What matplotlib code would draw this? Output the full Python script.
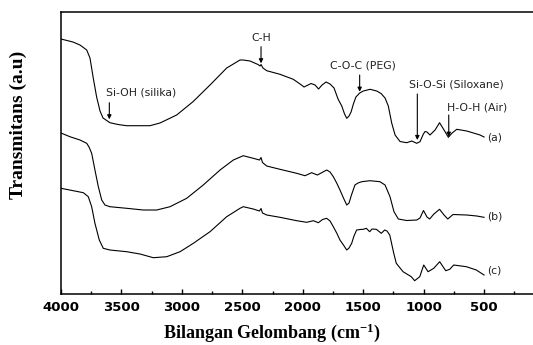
import matplotlib
matplotlib.use("Agg")
import matplotlib.pyplot as plt
from matplotlib.ticker import MultipleLocator

plt.rcParams["mathtext.fontset"] = "custom"
plt.rcParams["mathtext.rm"] = "Liberation Serif:bold"
plt.rcParams["mathtext.bf"] = "Liberation Serif:bold"
plt.rcParams["mathtext.it"] = "Liberation Serif:bold"

# ---------------- data (arbitrary transmittance units) ----------------
wn_a = [4000, 3901, 3843, 3787, 3760, 3733, 3705, 3677, 3652, 3595, 3528, 3456, 3264, 3181,
        3043, 2908, 2767, 2629, 2519, 2492, 2436, 2370, 2353, 2345, 2329, 2298, 2188, 2078,
        2022, 1989, 1931, 1898, 1869, 1840, 1807, 1774, 1741, 1708, 1677, 1654, 1636, 1617,
        1600, 1581, 1560, 1529, 1499, 1443, 1388, 1352, 1319, 1292, 1264, 1236, 1195, 1140,
        1098, 1057, 1030, 1002, 988, 972, 947, 905, 868, 831, 795, 767, 726, 643, 560, 533, 500]
t_a = [256, 253, 250, 245, 237, 217, 198, 184, 177, 172.3, 170.5, 169.3, 169.3, 172,
       180, 193.3, 210, 227, 235, 235, 234, 230.5, 229, 230.5, 227, 224.3, 220.7, 215.7,
       211, 208, 211.5, 210, 206, 210, 213, 211, 207, 196, 189, 181, 176.7, 179,
       183, 191, 198, 202, 204, 205.7, 204, 201.5, 197, 189, 172, 160, 153.5, 152.3,
       154, 151.7, 153.3, 161, 163.5, 163, 160, 165, 172.3, 165, 157.7, 161.7, 165.7, 164, 161, 160, 158]

wn_b = [4000, 3926, 3843, 3787, 3768, 3746, 3719, 3691, 3663, 3636, 3595, 3456, 3319, 3208,
        3098, 2960, 2823, 2684, 2574, 2492, 2409, 2358, 2345, 2333, 2298, 2188, 2050, 1981,
        1926, 1879, 1843, 1802, 1774, 1747, 1719, 1692, 1663, 1636, 1617, 1597, 1568, 1543,
        1512, 1443, 1361, 1319, 1278, 1245, 1209, 1140, 1057, 1030, 1001, 972, 950, 915,
        868, 831, 800, 757, 643, 560, 500]
t_b = [162, 158.3, 155, 151.7, 148, 141.7, 125, 108.3, 95, 90, 88.3, 86.7, 85, 85,
       88.3, 96.7, 110, 125, 135, 139.3, 136.7, 135, 137.5, 132.5, 129, 125.7, 121.7, 119.3,
       122.3, 120, 122.3, 125, 123, 118.3, 112, 105, 97, 90, 92, 100, 110, 112,
       113.3, 114.3, 113.3, 110, 98.3, 83.3, 76, 74.5, 75, 77, 84.5, 78, 76, 81,
       85.7, 80, 76, 80.5, 80, 79, 77.7]

wn_c = [4000, 3898, 3815, 3774, 3746, 3719, 3683, 3650, 3595, 3456, 3346, 3236, 3125, 3015,
        2905, 2866, 2767, 2629, 2519, 2492, 2409, 2358, 2345, 2333, 2298, 2188, 2050, 1967,
        1912, 1871, 1836, 1802, 1774, 1747, 1719, 1692, 1663, 1636, 1617, 1595, 1576, 1554,
        1527, 1499, 1474, 1446, 1427, 1391, 1350, 1322, 1303, 1280, 1247, 1226, 1170, 1102,
        1074, 1032, 999, 963, 916, 867, 817, 784, 751, 646, 564, 500]
t_c = [106.7, 104.3, 102.3, 98.3, 88.3, 71.7, 55, 46.7, 45, 43.3, 41, 37.3, 38.3, 43.3,
       51.7, 55, 63.3, 78.3, 86.7, 88.3, 86, 84, 86.5, 82, 80, 77.7, 74.3, 72.7,
       74.3, 72.3, 75.5, 76.7, 74, 68.3, 62, 55, 50, 45, 47, 51.7, 59, 65,
       65.5, 65.7, 66.7, 63.3, 66, 65.7, 61.7, 65, 64, 60, 41.7, 31.7, 23.3, 18.3,
       14.3, 18.3, 30, 23.3, 26.7, 33.3, 24.3, 25.7, 30, 28.3, 25, 20]

series_labels = ["(a)", "(b)", "(c)"]
band_labels = ["Si-OH (silika)", "C-H", "C-O-C (PEG)", "Si-O-Si (Siloxane)", "H-O-H (Air)"]
band_wn = [3600, 2345, 1529, 1052, 792]
tick_values = [4000, 3500, 3000, 2500, 2000, 1500, 1000, 500]

# ---------------- figure ----------------
fig = plt.figure(figsize=(5.33, 3.45), dpi=100)
ax = fig.add_axes([0.1144, 0.1478, 0.8856, 0.8174])

for wn, t in [(wn_a, t_a), (wn_b, t_b), (wn_c, t_c)]:
    ax.plot(wn, t, color="black", lw=0.8)

ax.set_xlim(4000, 95)
ax.set_ylim(1, 283)
ax.set_yticks([])
ax.spines["right"].set_visible(False)
for s in ["left", "top", "bottom"]:
    ax.spines[s].set_linewidth(1.1)

ax.set_xticks(tick_values)
ax.set_xticklabels([str(v) for v in tick_values], fontfamily="DejaVu Sans",
                   fontweight="bold", fontsize=9.5)
ax.xaxis.set_minor_locator(MultipleLocator(250))
ax.tick_params(axis="x", which="major", direction="in", length=3.5, width=1, pad=5)
ax.tick_params(axis="x", which="minor", direction="in", length=2, width=1)

ax.set_xlabel("Bilangan Gelombang (cm$^{-1}$)", fontfamily="Liberation Serif",
              fontweight="bold", fontsize=13)
ax.xaxis.set_label_coords(0.447, -0.097)
ax.set_ylabel("Transmitans (a.u)", fontfamily="Liberation Serif",
              fontweight="bold", fontsize=14)
ax.yaxis.set_label_coords(-0.072, 0.599)

# annotations: (text x, text y, arrow tail y, arrow tip y)
ann_pos = [(3628, 202.3, 192.3, 175.7),
           (2345, 256.7, 248.3, 231.7),
           (1777, 229.3, 220.0, 203.3),
           (1121, 210.7, 201.0, 155.0),
           (806, 187.3, 180.0, 158.3)]
ann_ha = ["left", "center", "left", "left", "left"]
for lab, wn0, (tx, ty, y0, y1), ha in zip(band_labels, band_wn, ann_pos, ann_ha):
    ax.text(tx, ty, lab, ha=ha, va="center", fontsize=7.8, color="#222222",
            fontfamily="DejaVu Sans")
    ax.annotate("", xy=(wn0, y1), xytext=(wn0, y0),
                arrowprops=dict(arrowstyle="-|>", lw=0.8, color="black",
                                mutation_scale=6, shrinkA=0, shrinkB=0))

lab_y = [157.3, 78.3, 25]
for lab, yy in zip(series_labels, lab_y):
    ax.text(475, yy, lab, ha="left", va="center", fontsize=7.8, color="#222222",
            fontfamily="DejaVu Sans")

fig.savefig("out.png", dpi=100)
